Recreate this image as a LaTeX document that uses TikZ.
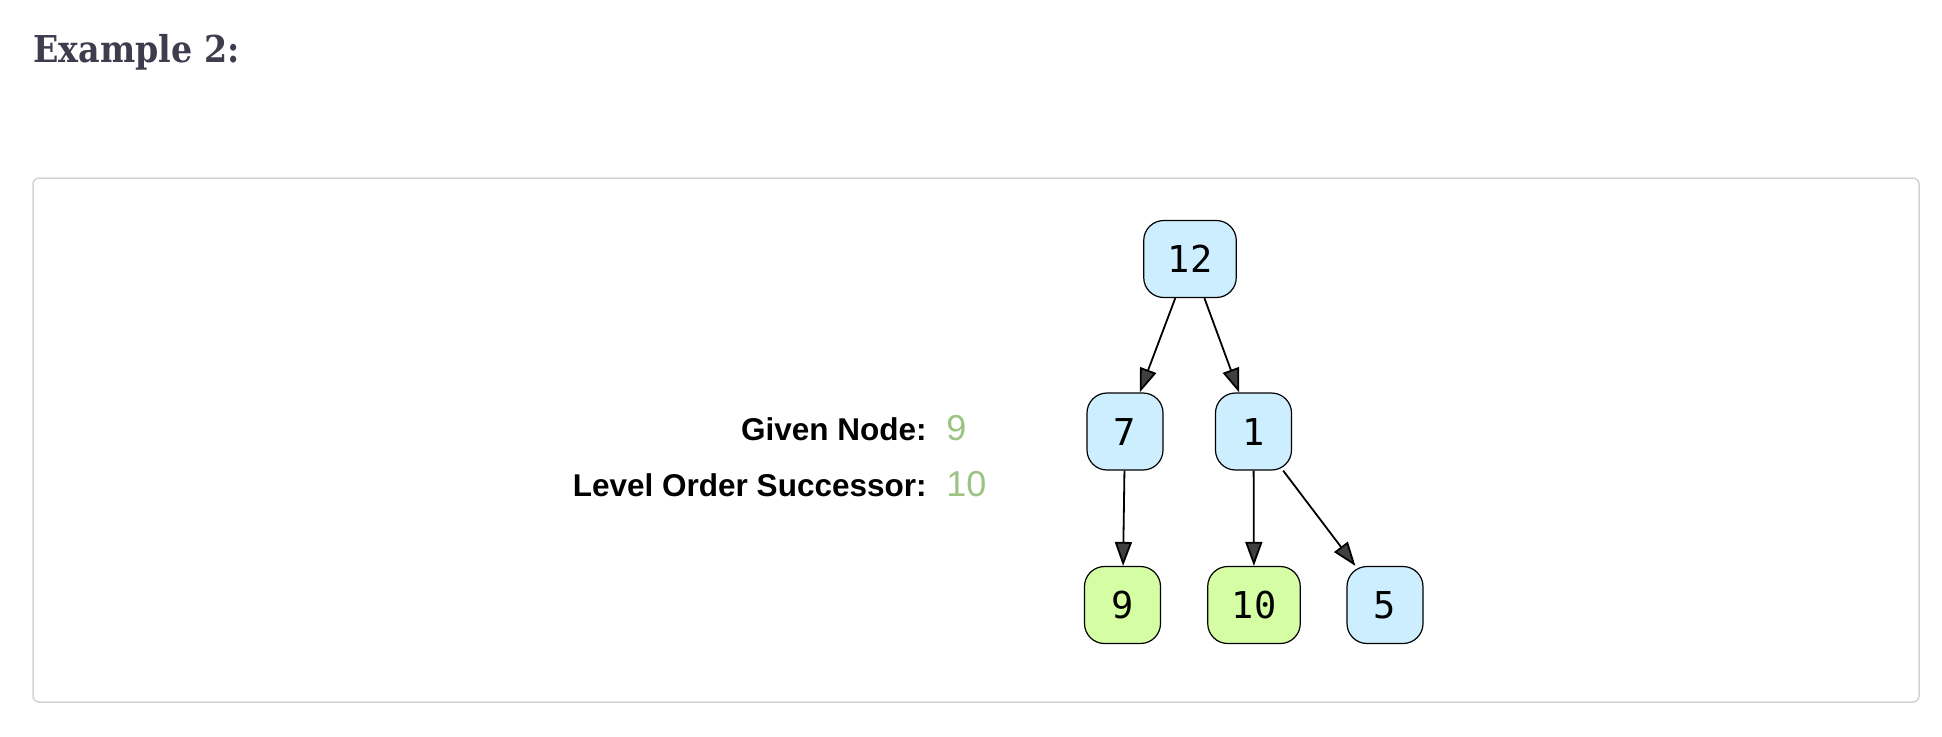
\documentclass[tikz,border=0pt]{standalone}
\usepackage{fontspec}
\setmainfont{Liberation Sans}
\newfontfamily\titlefont{DejaVu Serif Condensed}
\newfontfamily\keyfont{DejaVu Sans Mono}
\usetikzlibrary{arrows.meta}
\definecolor{nodeblue}{HTML}{CCEEFF}
\definecolor{nodegreen}{HTML}{D5FDA3}
\definecolor{valgreen}{HTML}{9BC484}
\definecolor{titlegray}{HTML}{3D3D4E}
\definecolor{panelgray}{HTML}{D2D2D7}
\definecolor{tipgray}{HTML}{404040}
\begin{document}
\begin{tikzpicture}[x = 0.5pt, y = -0.5pt,
                    tnode/.style  = {rectangle, rounded corners = 10pt, draw, line width = 0.6pt, fill = nodeblue,
                                     minimum width = 38pt, minimum height = 38.5pt, inner xsep = 12pt,
                                     font = \keyfont\fontsize{18.5}{20}\selectfont},
                    gnode/.style  = {tnode, fill = nodegreen},
                    edge/.style   = {line width = 0.9pt, -{Triangle[length = 12pt, width = 8.5pt, fill = tipgray]}},
                    label/.style  = {inner sep = 0pt, anchor = base east, font = \bfseries\fontsize{15.75}{18}\selectfont},
                    value/.style  = {inner sep = 0pt, anchor = base west, text = valgreen, font = \fontsize{18}{20}\selectfont}
                    ]
    \useasboundingbox (0, 0) rectangle (1942, 736);

    \node[inner sep = 0pt, anchor = base west, text = titlegray, font = \titlefont\bfseries\fontsize{18.5}{22}\selectfont] (title) at (33, 62) {Example 2:};
    \draw[panelgray, line width = 0.75pt, rounded corners = 3pt] (33, 178) rectangle (1919, 702);

    \node[label] (given)  at (927, 440) {Given Node:};
    \node[label] (succ)   at (927, 496) {Level Order Successor:};
    \node[value] (givenv) at (946, 440) {9};
    \node[value] (succv)  at (946, 496) {10};

    \node[tnode] (n12) at (1190, 259)   {12};
    \node[tnode] (n7)  at (1125, 431.5) {7};
    \node[tnode] (n1)  at (1253.5, 431.5) {1};
    \node[gnode] (n9)  at (1122.5, 605) {9};
    \node[gnode] (n10) at (1254, 605)   {10};
    \node[tnode] (n5)  at (1385, 605)   {5};

    \draw[edge] (n12) -- (n7);
    \draw[edge] (n12) -- (n1);
    \draw[edge] (n7)  -- (n9);
    \draw[edge] (n1)  -- (n10);
    \draw[edge] (n1)  -- (n5);
\end{tikzpicture}
\end{document}
